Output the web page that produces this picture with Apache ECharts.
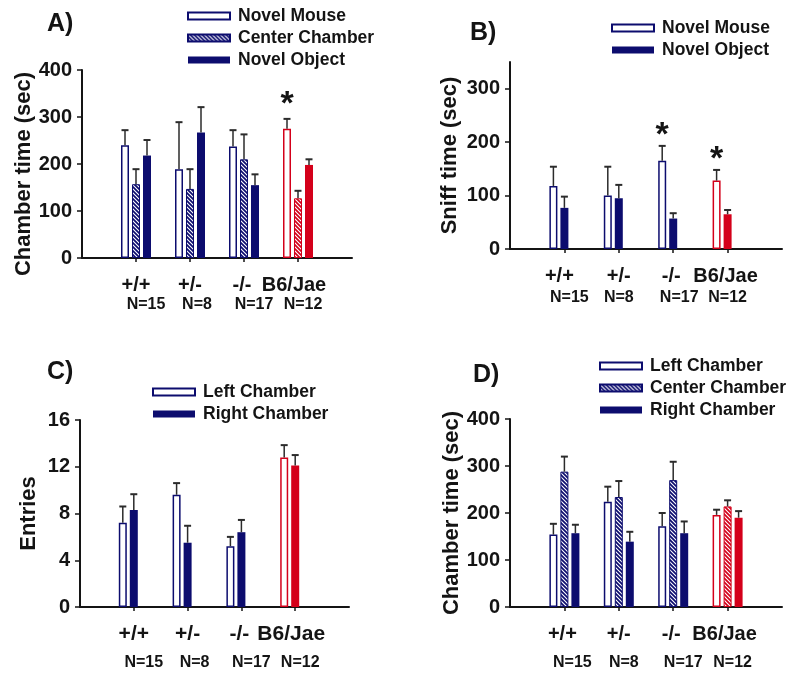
<!DOCTYPE html>
<html><head><meta charset="utf-8">
<script src="https://cdn.jsdelivr.net/npm/echarts@6/dist/echarts.min.js"></script>
<style>html,body{margin:0;padding:0;background:#fff}#c{width:800px;height:684px}</style>
</head><body><div id="c"></div>
<script>
// ---------- data ----------
const categories = ['+/+', '+/-', '-/-', 'B6/Jae'];
const nLabels = ['N=15', 'N=8', 'N=17', 'N=12'];

// Panel A: chamber time (sec)
const aNovelMouse = [240, 189, 237, 275];
const aNovelMouseErr = [32, 100, 35, 21];
const aCenterChamber = [157, 147, 210, 127];
const aCenterChamberErr = [32, 42, 53, 16];
const aNovelObject = [218, 267, 155, 198];
const aNovelObjectErr = [33, 54, 23, 12];
const aSignificant = [['B6/Jae', 0]];
const aTicks = [0, 100, 200, 300, 400];

// Panel B: sniff time (sec)
const bNovelMouse = [118, 100, 165, 128];
const bNovelMouseErr = [36, 54, 28, 20];
const bNovelObject = [77, 95, 57, 65];
const bNovelObjectErr = [21, 25, 10, 8];
const bSignificant = [['-/-', 0], ['B6/Jae', 0]];
const bTicks = [0, 100, 200, 300];

// Panel C: entries
const cLeftChamber = [7.2, 9.6, 5.2, 12.8];
const cLeftChamberErr = [1.4, 1.0, 0.8, 1.05];
const cRightChamber = [8.3, 5.5, 6.4, 12.1];
const cRightChamberErr = [1.35, 1.45, 1.05, 0.9];
const cSignificant = [];
const cTicks = [0, 4, 8, 12, 16];

// Panel D: chamber time (sec)
const dLeftChamber = [154, 224, 172, 196];
const dLeftChamberErr = [23, 32, 28, 11];
const dCenterChamber = [288, 234, 270, 214];
const dCenterChamberErr = [32, 34, 39, 13];
const dRightChamber = [157, 139, 157, 190];
const dRightChamberErr = [18, 21, 25, 14];
const dSignificant = [];
const dTicks = [0, 100, 200, 300, 400];

// ---------- styling ----------
const NAVY = '#0c0c6e', RED = '#d4001a', INK = '#141414', ERR = '#2b2b2b';
const FONT = '"Liberation Sans", Arial, Helvetica, sans-serif';
const BAR_W = 8, BAR_GAP = 3, PITCH = BAR_W + BAR_GAP;

function hatch(bg) {
  const c = document.createElement('canvas');
  c.width = 4; c.height = 4;
  const g = c.getContext('2d');
  g.fillStyle = bg; g.fillRect(0, 0, 4, 4);
  g.strokeStyle = '#ffffff'; g.lineWidth = 1.1;
  g.beginPath();
  g.moveTo(0, 0); g.lineTo(4, 4);
  g.moveTo(-1, 3); g.lineTo(1, 5);
  g.moveTo(3, -1); g.lineTo(5, 1);
  g.stroke();
  return c;
}
const STYLES = {
  open: c => ({ color: '#ffffff', borderColor: c, borderWidth: 1.5 }),
  hatch: c => ({ color: { image: hatch(c), repeat: 'repeat' }, borderColor: c, borderWidth: 1 }),
  fill: c => ({ color: c, borderWidth: 0 })
};

const panels = [
  { grid: { left: 82, top: 70, width: 270, height: 188 }, max: 400, ticks: aTicks,
    yName: 'Chamber time (sec)', nameGap: 46, namePad: [0, 20, 0, 0], labelSize: 20,
    slots: 3, nLine: 18, cOff: [0, 0, -2, -4], nOff: [10, 7, 10, 5],
    series: [
      { name: 'Novel Mouse', kind: 'open', v: aNovelMouse, e: aNovelMouseErr },
      { name: 'Center Chamber', kind: 'hatch', v: aCenterChamber, e: aCenterChamberErr },
      { name: 'Novel Object', kind: 'fill', v: aNovelObject, e: aNovelObjectErr }],
    sig: aSignificant, sigGap: 14, legend: { left: 187, top: 7 }, title: { text: 'A)', left: 47, top: 12 } },
  { grid: { left: 510, top: 62, width: 272, height: 187 }, max: 350, ticks: bTicks,
    yName: 'Sniff time (sec)', nameGap: 49, namePad: [0, 0, 0, 0], labelSize: 20,
    slots: 3, nLine: 22, cOff: [-5, 0, -2, -2], nOff: [5, 0, 6, 0],
    series: [
      { name: 'Novel Mouse', kind: 'open', v: bNovelMouse, e: bNovelMouseErr },
      { name: 'Novel Object', kind: 'fill', v: bNovelObject, e: bNovelObjectErr }],
    sig: bSignificant, sigGap: 10, legend: { left: 611, top: 19 }, title: { text: 'B)', left: 470, top: 21 } },
  { grid: { left: 80, top: 420, width: 269, height: 187 }, max: 16, ticks: cTicks,
    yName: 'Entries', nameGap: 40, namePad: [0, 0, 0, 0], labelSize: 21,
    slots: 3, nLine: 36, cOff: [0, 0, -2, -4], nOff: [10, 7, 10, 5],
    series: [
      { name: 'Left Chamber', kind: 'open', v: cLeftChamber, e: cLeftChamberErr },
      { name: 'Right Chamber', kind: 'fill', v: cRightChamber, e: cRightChamberErr }],
    sig: cSignificant, sigGap: 12, legend: { left: 152, top: 383 }, title: { text: 'C)', left: 47, top: 360 } },
  { grid: { left: 510, top: 419, width: 272, height: 188 }, max: 400, ticks: dTicks,
    yName: 'Chamber time (sec)', nameGap: 47, namePad: [0, 0, 0, 0], labelSize: 20,
    slots: 3, nLine: 36, cOff: [-2, 0, -2, -3], nOff: [8, 5, 10, 5],
    series: [
      { name: 'Left Chamber', kind: 'open', v: dLeftChamber, e: dLeftChamberErr },
      { name: 'Center Chamber', kind: 'hatch', v: dCenterChamber, e: dCenterChamberErr },
      { name: 'Right Chamber', kind: 'fill', v: dRightChamber, e: dRightChamberErr }],
    sig: dSignificant, sigGap: 12, legend: { left: 599, top: 357 }, title: { text: 'D)', left: 473, top: 363 } }
];

const axisData = [''].concat(categories, ['']);
const inner = (idx) => idx > 0 && idx < axisData.length - 1;

const option = {
  animation: false,
  backgroundColor: '#ffffff',
  title: [], grid: [], xAxis: [], yAxis: [], legend: [], series: []
};

panels.forEach((p, pi) => {
  option.grid.push(p.grid);
  option.title.push({ text: p.title.text, left: p.title.left, top: p.title.top, padding: 0,
    textStyle: { fontSize: 25, fontWeight: 'bold', fontFamily: FONT, color: INK } });
  const rich = {};
  p.cOff.forEach((o, i) => {
    rich['c' + i] = { fontSize: p.labelSize, fontWeight: 'bold', fontFamily: FONT, color: INK, lineHeight: 22,
      padding: o < 0 ? [0, -2 * o, 0, 0] : [0, 0, 0, 2 * o] };
  });
  p.nOff.forEach((o, i) => {
    rich['n' + i] = { fontSize: 16, fontWeight: 'bold', fontFamily: FONT, color: INK, lineHeight: p.nLine,
      padding: o < 0 ? [0, -2 * o, 0, 0] : [0, 0, 0, 2 * o] };
  });
  option.xAxis.push({
    type: 'category', gridIndex: pi, data: axisData, boundaryGap: false,
    axisLine: { lineStyle: { color: INK, width: 2 } },
    axisTick: { length: 4, interval: (i) => inner(i), lineStyle: { color: INK, width: 1.5 } },
    // all positions get a label (the two padding positions get an empty one) so no real label is treated as min/max
    axisLabel: { interval: 0, margin: 16, hideOverlap: false,
      formatter: (val, i) => inner(i) ? '{c' + (i - 1) + '|' + val + '}\n{n' + (i - 1) + '|' + nLabels[i - 1] + '}' : '',
      rich: rich },
    splitLine: { show: false }
  });
  option.yAxis.push({
    type: 'value', gridIndex: pi, min: 0, max: p.max,
    name: p.yName, nameLocation: 'middle', nameRotate: 90, nameGap: p.nameGap,
    nameTextStyle: { fontSize: 22, fontWeight: 'bold', fontFamily: FONT, color: INK, padding: p.namePad },
    axisLine: { show: true, lineStyle: { color: INK, width: 2 } },
    axisTick: { show: true, length: 5, customValues: p.ticks, lineStyle: { color: INK, width: 1.5 } },
    axisLabel: { customValues: p.ticks, margin: 10, fontSize: 20, fontWeight: 'bold', fontFamily: FONT, color: INK },
    splitLine: { show: false }
  });
  option.legend.push({
    left: p.legend.left, top: p.legend.top, orient: 'vertical', icon: 'rect',
    itemWidth: 42, itemHeight: 7, itemGap: 4, selectedMode: false, padding: 0,
    data: p.series.map(s => s.name),
    textStyle: { fontSize: 17.5, fontWeight: 'bold', fontFamily: FONT, color: INK, lineHeight: 18, padding: [0, 0, 0, 3] }
  });
  const errData = [];
  p.series.forEach((s, si) => {
    const data = [null].concat(s.v.map((v, ci) => ci === categories.length - 1
      ? { value: v, itemStyle: STYLES[s.kind](RED) } : v), [null]);
    option.series.push({
      type: 'bar', name: s.name, xAxisIndex: pi, yAxisIndex: pi,
      barWidth: BAR_W, barGap: (BAR_GAP / BAR_W * 100) + '%',
      itemStyle: STYLES[s.kind](NAVY), data: data, z: 2
    });
    s.v.forEach((v, ci) => errData.push([categories[ci], v, s.e[ci], si]));
  });
  // empty placeholder series so that two-bar groups sit like the original three-slot layout
  for (let k = p.series.length; k < p.slots; k++) {
    option.series.push({ type: 'bar', name: '_slot' + pi + '_' + k, xAxisIndex: pi, yAxisIndex: pi,
      barWidth: BAR_W, barGap: (BAR_GAP / BAR_W * 100) + '%', data: [] });
  }
  const slots = p.slots;
  option.series.push({
    type: 'custom', xAxisIndex: pi, yAxisIndex: pi, z: 5,
    encode: { x: 0, y: 1 }, data: errData,
    renderItem: (params, api) => {
      const ci = api.value(0), m = api.value(1), e = api.value(2), si = api.value(3);
      const off = (si - (slots - 1) / 2) * PITCH;
      const p0 = api.coord([ci, m]), p1 = api.coord([ci, m + e]);
      const x = p0[0] + off;
      return { type: 'group', children: [
        { type: 'line', shape: { x1: x, y1: p0[1], x2: x, y2: p1[1] }, style: { stroke: ERR, lineWidth: 1.5 } },
        { type: 'line', shape: { x1: x - 3.5, y1: p1[1], x2: x + 3.5, y2: p1[1] }, style: { stroke: ERR, lineWidth: 2 } }
      ] };
    }
  });
  if (p.sig.length) {
    const sigData = p.sig.map(([cat, si]) => {
      const s = p.series[si], ci = categories.indexOf(cat);
      return [cat, s.v[ci] + s.e[ci], si];
    });
    const gap = p.sigGap;
    option.series.push({
      type: 'custom', xAxisIndex: pi, yAxisIndex: pi, z: 6,
      encode: { x: 0, y: 1 }, data: sigData,
      renderItem: (params, api) => {
        const ci = api.value(0), top = api.value(1), si = api.value(2);
        const off = (si - (slots - 1) / 2) * PITCH;
        const pt = api.coord([ci, top]);
        return { type: 'text', x: pt[0] + off, y: pt[1] - gap,
          style: { text: '*', fill: INK, font: 'bold 34px ' + FONT, align: 'center', verticalAlign: 'middle' } };
      }
    });
  }
});

const chart = echarts.init(document.getElementById('c'), null, { renderer: 'canvas' });
chart.setOption(option);
</script>
</body></html>
